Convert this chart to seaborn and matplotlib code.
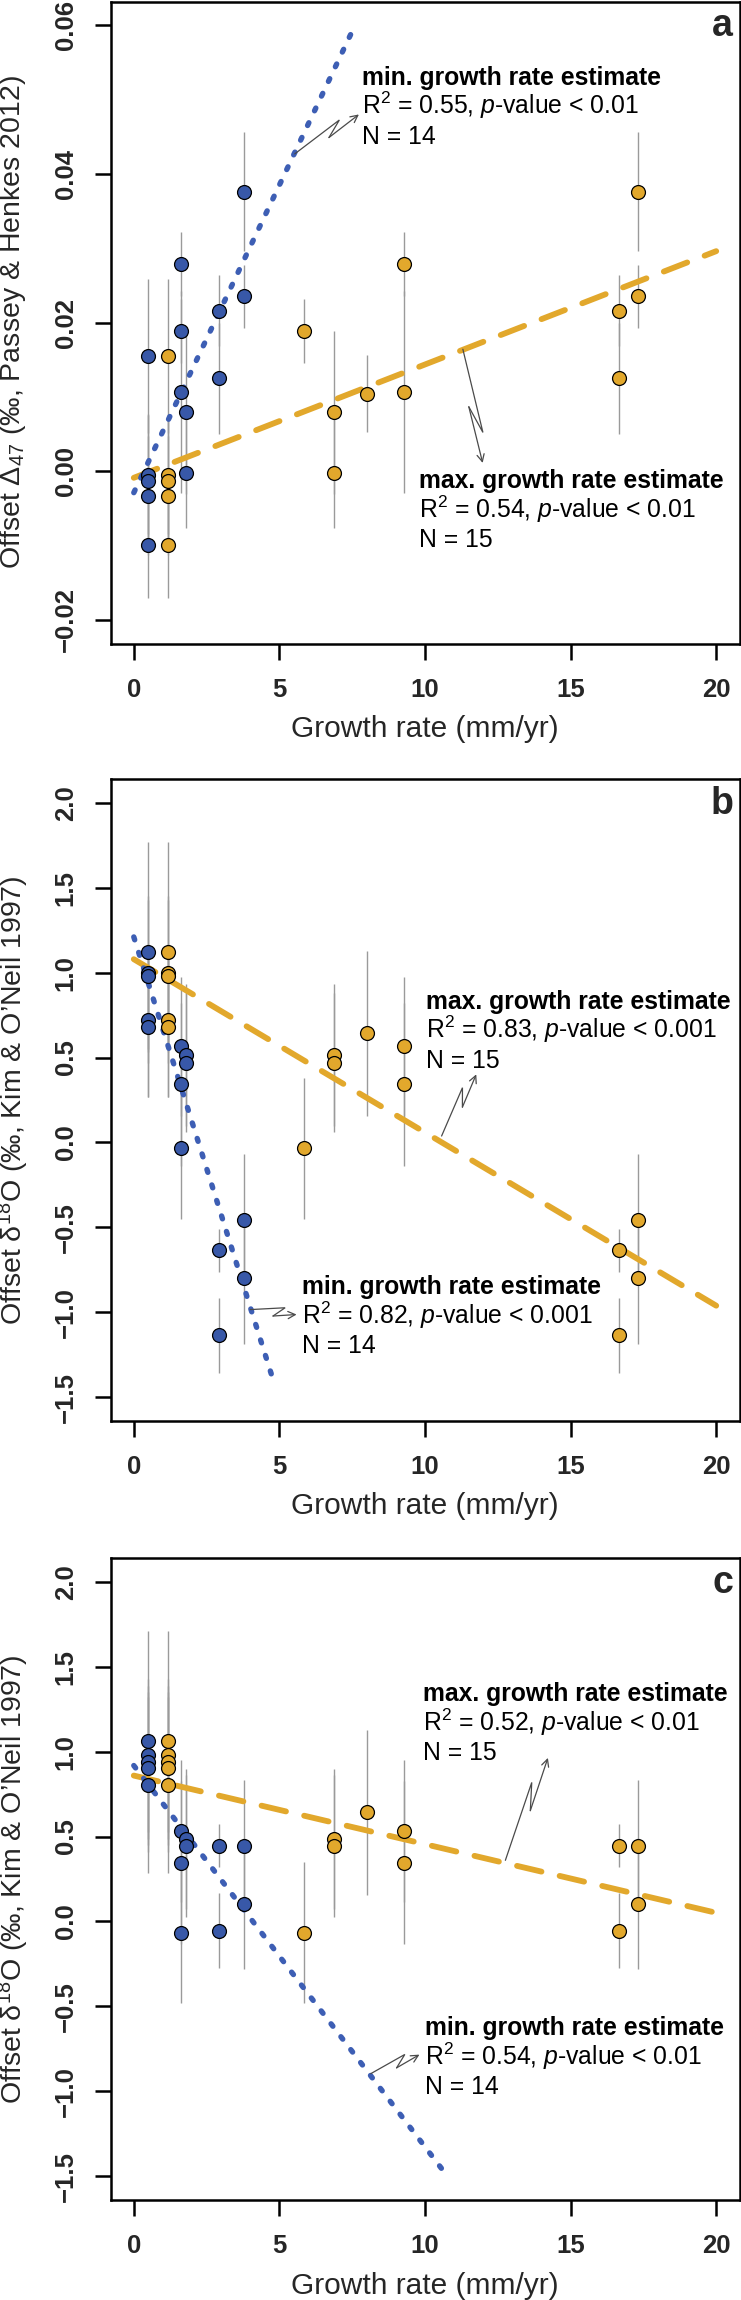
import numpy as np
import pandas as pd
import matplotlib
matplotlib.use("Agg")
import matplotlib.pyplot as plt
import seaborn as sns
from matplotlib import transforms

# ---------------- data ----------------
# growth-rate estimates per sample (mm/yr); one sample has no min. estimate
growth_min = [0.5, 0.5, 0.5, 0.5, 0.5, 1.61, 1.61, 1.61, np.nan, 1.80, 1.80, 2.92, 2.92, 3.78, 3.78]
growth_max = [1.18, 1.18, 1.18, 1.18, 1.18, 9.27, 9.27, 5.86, 8.0, 6.87, 6.87, 16.66, 16.66, 17.32, 17.32]

# panel a: offset D47 (Passey & Henkes 2012)
offset_d47 = [0.0155, -0.0005, -0.0013, -0.0033, -0.0100, 0.0279, 0.0107, 0.0188, 0.0104,
              0.0079, -0.0003, 0.0216, 0.0125, 0.0376, 0.0235]
err_d47 = [0.0104, 0.0080, 0.0090, 0.0080, 0.0071, 0.0043, 0.0136, 0.0043, 0.0052,
           0.0110, 0.0073, 0.0048, 0.0075, 0.0080, 0.0042]

# panel b: offset d18O (Kim & O'Neil 1997)
offset_d18o_b = [1.12, 1.00, 0.98, 0.72, 0.68, 0.566, 0.344, -0.035, 0.643,
                 0.515, 0.470, -0.636, -1.135, -0.455, -0.799]
err_d18o_b = [0.65, 0.45, 0.45, 0.45, 0.41, 0.41, 0.48, 0.415, 0.486,
              0.42, 0.41, 0.127, 0.22, 0.385, 0.385]

# panel c: offset d18O (Kim & O'Neil 1997)
offset_d18o_c = [1.061, 0.979, 0.938, 0.902, 0.804, 0.535, 0.345, -0.067, 0.643,
                 0.486, 0.443, 0.447, -0.054, 0.447, 0.104]
err_d18o_c = [0.65, 0.45, 0.45, 0.45, 0.52, 0.418, 0.48, 0.416, 0.485,
              0.413, 0.417, 0.125, 0.22, 0.385, 0.385]

# regression lines: (intercept, slope, x_start, x_end)
fit_a_min = (-0.0029, 0.00828, 0.0, 7.6)
fit_a_max = (-0.0009, 0.001525, 0.0, 20.0)
fit_b_min = (1.21, -0.545, 0.0, 4.85)
fit_b_max = (1.079, -0.102, 0.0, 20.0)
fit_c_min = (0.918, -0.2245, 0.0, 10.76)
fit_c_max = (0.859, -0.0404, 0.0, 20.0)

x_ticks = [0, 5, 10, 15, 20]
y_ticks_a = [-0.02, 0.00, 0.02, 0.04, 0.06]
y_ticklabels_a = ["\u22120.02", "0.00", "0.02", "0.04", "0.06"]
y_ticks_bc = [-1.5, -1.0, -0.5, 0.0, 0.5, 1.0, 1.5, 2.0]
y_ticklabels_bc = ["\u22121.5", "\u22121.0", "\u22120.5", "0.0", "0.5", "1.0", "1.5", "2.0"]

# ---------------- style ----------------
sns.set_style("ticks")
FONT = "Liberation Sans"
plt.rcParams["font.family"] = [FONT, "DejaVu Sans"]
plt.rcParams["mathtext.fontset"] = "custom"
plt.rcParams["mathtext.rm"] = FONT
plt.rcParams["mathtext.it"] = FONT + ":italic"
plt.rcParams["mathtext.bf"] = FONT + ":bold"
plt.rcParams["axes.unicode_minus"] = True

BLUE = "#3858A8"
BLUE_LINE = "#3D5EB4"
ORANGE = "#E2A82C"
GREY = "#9A9A9A"
ARROW = "#4A4A4A"

W, H = 741, 2300
fig = plt.figure(figsize=(W / 100, H / 100), dpi=100)

left_px, right_px = 110.5, 739.5
panel_tops = [1.5, 779.0, 1558.0]
ax_h_px = 642.0


def make_ax(top_px):
    return fig.add_axes([left_px / W, (H - top_px - ax_h_px) / H,
                         (right_px - left_px) / W, ax_h_px / H])


def zigzag_arrow(ax, start, end):
    T = ax.transData
    p0 = np.array(T.transform(start))
    p3 = np.array(T.transform(end))
    d = p3 - p0
    L = np.hypot(*d)
    u = d / L
    n = np.array([-u[1], u[0]])
    p1 = p0 + 0.74 * d + 5.5 * n
    p2 = p0 + 0.50 * d - 4.0 * n
    pts = T.inverted().transform(np.vstack([p0, p1, p2]))
    ax.plot(pts[:, 0], pts[:, 1], color=ARROW, lw=0.9, zorder=5,
            solid_joinstyle="miter", clip_on=False)
    ax.annotate("", xy=end, xytext=tuple(pts[2]),
                arrowprops=dict(arrowstyle="->", color=ARROW, lw=0.9,
                                shrinkA=0, shrinkB=0, mutation_scale=13),
                zorder=5)


def text_block(ax, x, y, lines):
    for i, (txt, weight) in enumerate(lines):
        tr = transforms.offset_copy(ax.transData, fig=fig, x=0, y=-29.5 * i, units="dots")
        ax.text(x, y, txt, transform=tr, fontsize=17.8, fontweight=weight,
                ha="left", va="baseline", color="black", zorder=6)


def draw_panel(ax, y, err, fit_min, fit_max, ylim, yticks, yticklabels, ylabel, letter,
               txt_min, txt_max, arr_min, arr_max):
    y = np.asarray(y)
    err = np.asarray(err)
    gmin = np.asarray(growth_min)
    gmax = np.asarray(growth_max)
    ax.set_xlim(-0.8, 20.8)
    ax.set_ylim(*ylim)

    ok = ~np.isnan(gmin)
    ax.vlines(gmin[ok], (y - err)[ok], (y + err)[ok], color=GREY, lw=1.0, zorder=1)
    ax.vlines(gmax, y - err, y + err, color=GREY, lw=1.0, zorder=1)

    a, b, x0, x1 = fit_max
    ax.plot([x0, x1], [a + b * x0, a + b * x1], color=ORANGE, lw=4.2,
            linestyle=(0, (4.3, 3.2)), dash_capstyle="round", zorder=2)
    a, b, x0, x1 = fit_min
    ax.plot([x0, x1], [a + b * x0, a + b * x1], color=BLUE_LINE, lw=3.9,
            linestyle=(0, (0.55, 2.45)), dash_capstyle="round", zorder=2)

    df_min = pd.DataFrame({"growth": gmin, "offset": y}).dropna()
    df_max = pd.DataFrame({"growth": gmax, "offset": y})
    sns.scatterplot(data=df_max, x="growth", y="offset", ax=ax, color=ORANGE, s=100,
                    edgecolor="black", linewidth=0.9, zorder=3, legend=False)
    sns.scatterplot(data=df_min, x="growth", y="offset", ax=ax, color=BLUE, s=100,
                    edgecolor="black", linewidth=0.9, zorder=3, legend=False)

    ax.set_xticks(x_ticks, labels=[str(t) for t in x_ticks], fontweight="bold", fontsize=18.5)
    ax.set_yticks(yticks, labels=yticklabels, fontweight="bold", fontsize=18.5,
                  rotation=90, va="center")
    ax.tick_params(axis="both", direction="out", length=11.5, width=1.8,
                   top=False, right=False, color="black")
    ax.tick_params(axis="x", pad=13)
    ax.tick_params(axis="y", pad=12)
    for s in ax.spines.values():
        s.set_linewidth(1.8)
        s.set_color("black")
        s.set_visible(True)

    ax.set_xlabel("Growth rate (mm/yr)", fontsize=21.5)
    ax.xaxis.set_label_coords(0.5, -(727.5 - 642.0) / ax_h_px)
    ax.xaxis.label.set_va("center")
    ax.set_ylabel(ylabel, fontsize=20.5)
    ax.yaxis.set_label_coords(-(left_px - 13.0) / (right_px - left_px), 0.5)
    ax.yaxis.label.set_va("center")

    ax.text((733 - left_px) / (right_px - left_px), 1 - 35.0 / ax_h_px, letter,
            transform=ax.transAxes, ha="right", va="baseline",
            fontsize=27, fontweight="bold")

    text_block(ax, *txt_min)
    text_block(ax, *txt_max)
    zigzag_arrow(ax, *arr_min)
    zigzag_arrow(ax, *arr_max)


ax_a = make_ax(panel_tops[0])
draw_panel(ax_a, offset_d47, err_d47, fit_a_min, fit_a_max, (-0.0232, 0.0632),
           y_ticks_a, y_ticklabels_a,
           "Offset \u0394$_{47}$ (\u2030, Passey & Henkes 2012)", "a",
           (7.82, 0.0520, [("min. growth rate estimate", "bold"),
                           ("R$^2$ = 0.55, $p$-value < 0.01", "normal"),
                           ("N = 14", "normal")]),
           (9.81, -0.0023, [("max. growth rate estimate", "bold"),
                            ("R$^2$ = 0.54, $p$-value < 0.01", "normal"),
                            ("N = 15", "normal")]),
           ((5.53, 0.0427), (7.73, 0.0480)),
           ((11.30, 0.0164), (11.98, 0.0011)))

ax_b = make_ax(panel_tops[1])
draw_panel(ax_b, offset_d18o_b, err_d18o_b, fit_b_min, fit_b_max, (-1.64, 2.14),
           y_ticks_bc, y_ticklabels_bc,
           "Offset \u03b4$^{18}$O (\u2030, Kim & O\u2019Neil 1997)", "b",
           (5.78, -0.894, [("min. growth rate estimate", "bold"),
                           ("R$^2$ = 0.82, $p$-value < 0.001", "normal"),
                           ("N = 14", "normal")]),
           (10.05, 0.786, [("max. growth rate estimate", "bold"),
                           ("R$^2$ = 0.83, $p$-value < 0.001", "normal"),
                           ("N = 15", "normal")]),
           ((4.0, -0.984), (5.59, -1.013)),
           ((10.57, 0.038), (11.76, 0.401)))

ax_c = make_ax(panel_tops[2])
draw_panel(ax_c, offset_d18o_c, err_d18o_c, fit_c_min, fit_c_max, (-1.64, 2.14),
           y_ticks_bc, y_ticklabels_bc,
           "Offset \u03b4$^{18}$O (\u2030, Kim & O\u2019Neil 1997)", "c",
           (10.0, -0.671, [("min. growth rate estimate", "bold"),
                           ("R$^2$ = 0.54, $p$-value < 0.01", "normal"),
                           ("N = 14", "normal")]),
           (9.92, 1.298, [("max. growth rate estimate", "bold"),
                          ("R$^2$ = 0.52, $p$-value < 0.01", "normal"),
                          ("N = 15", "normal")]),
           ((8.14, -0.896), (9.81, -0.784)),
           ((12.76, 0.360), (14.22, 0.963)))

fig.savefig("out.png", dpi=100)
